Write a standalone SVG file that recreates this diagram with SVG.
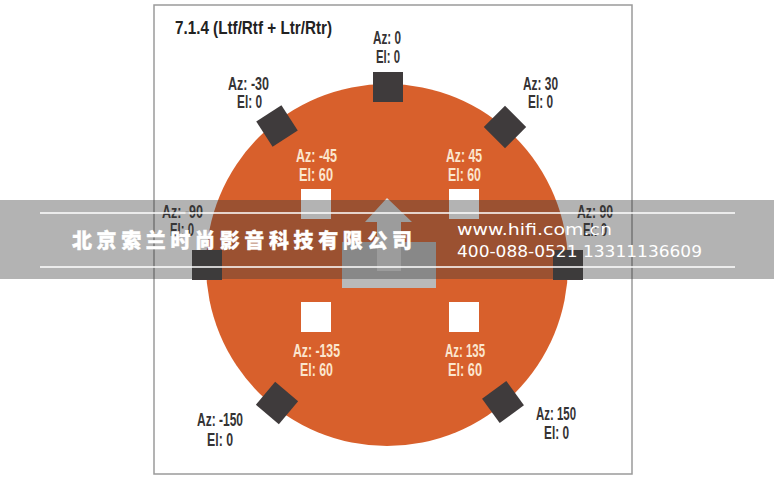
<svg xmlns="http://www.w3.org/2000/svg" width="774" height="480" viewBox="0 0 774 480">
<style>
.lbl{font-family:"Liberation Sans",Arial,sans-serif;font-weight:bold;font-size:18.5px}
.dk{fill:#353334}
.lt{fill:#fbe6cf}
.spk{fill:#3f3b3c}
.top{fill:#ffffff}
.wm{font-family:"DejaVu Sans",sans-serif;font-size:16px;fill:#ffffff}
</style>
<rect x="0" y="0" width="774" height="480" fill="#ffffff"/>
<rect id="frame" x="154" y="5" width="478" height="469" fill="#ffffff" stroke="#9a9a9a" stroke-width="1.5"/>
<text class="lbl" x="175" y="34" fill="#222" textLength="157" lengthAdjust="spacingAndGlyphs">7.1.4 (Ltf/Rtf + Ltr/Rtr)</text>
<circle id="room" cx="387" cy="265" r="181" fill="#d8602c"/>
<g id="listener">
<rect x="342" y="242" width="94" height="46" fill="#b9b9b9"/>
<path d="M387 198 L412 222 L401 222 L401 271 L377 271 L377 222 L365 222 Z" fill="#dadada"/>
</g>
<g id="connectors"></g>
<g id="spk-0"><rect class="spk" x="373" y="72" width="30" height="30"/>
<text class="lbl dk" x="373" y="44" textLength="28" lengthAdjust="spacingAndGlyphs">Az: 0</text>
<text class="lbl dk" x="376" y="63" textLength="24" lengthAdjust="spacingAndGlyphs">El: 0</text></g>
<g id="spk-m30"><rect class="spk" x="-15" y="-15" width="30" height="30" transform="translate(277 126) rotate(-33)"/>
<text class="lbl dk" x="228" y="90" textLength="41" lengthAdjust="spacingAndGlyphs">Az: -30</text>
<text class="lbl dk" x="237" y="108" textLength="25" lengthAdjust="spacingAndGlyphs">El: 0</text></g>
<g id="spk-30"><rect class="spk" x="-15" y="-15" width="30" height="30" transform="translate(505 127) rotate(45)"/>
<text class="lbl dk" x="523" y="90" textLength="35" lengthAdjust="spacingAndGlyphs">Az: 30</text>
<text class="lbl dk" x="528" y="108" textLength="25" lengthAdjust="spacingAndGlyphs">El: 0</text></g>
<g id="spk-m90"><rect class="spk" x="192" y="250" width="30" height="30"/>
<text class="lbl dk" x="162" y="218" textLength="41" lengthAdjust="spacingAndGlyphs">Az: -90</text>
<text class="lbl dk" x="170" y="236" textLength="24" lengthAdjust="spacingAndGlyphs">El: 0</text></g>
<g id="spk-90"><rect class="spk" x="553" y="250" width="30" height="30"/>
<text class="lbl dk" x="577" y="218" textLength="36" lengthAdjust="spacingAndGlyphs">Az: 90</text>
<text class="lbl dk" x="583" y="236" textLength="24" lengthAdjust="spacingAndGlyphs">El: 0</text></g>
<g id="spk-m150"><rect class="spk" x="-15" y="-15" width="30" height="30" transform="translate(277 403) rotate(40)"/>
<text class="lbl dk" x="197" y="426" textLength="46" lengthAdjust="spacingAndGlyphs">Az: -150</text>
<text class="lbl dk" x="207" y="446" textLength="26" lengthAdjust="spacingAndGlyphs">El: 0</text></g>
<g id="spk-150"><rect class="spk" x="-15" y="-15" width="30" height="30" transform="translate(503 402) rotate(-36)"/>
<text class="lbl dk" x="536" y="420" textLength="40" lengthAdjust="spacingAndGlyphs">Az: 150</text>
<text class="lbl dk" x="544" y="439" textLength="25" lengthAdjust="spacingAndGlyphs">El: 0</text></g>
<g id="top-m45"><rect class="top" x="301" y="189" width="30" height="30"/>
<text class="lbl lt" x="296" y="162" textLength="41" lengthAdjust="spacingAndGlyphs">Az: -45</text>
<text class="lbl lt" x="299" y="181" textLength="34" lengthAdjust="spacingAndGlyphs">El: 60</text></g>
<g id="top-45"><rect class="top" x="449" y="189" width="30" height="30"/>
<text class="lbl lt" x="446" y="162" textLength="36" lengthAdjust="spacingAndGlyphs">Az: 45</text>
<text class="lbl lt" x="448" y="181" textLength="33" lengthAdjust="spacingAndGlyphs">El: 60</text></g>
<g id="top-m135"><rect class="top" x="301" y="302" width="30" height="30"/>
<text class="lbl lt" x="293" y="357" textLength="47" lengthAdjust="spacingAndGlyphs">Az: -135</text>
<text class="lbl lt" x="300" y="376" textLength="33" lengthAdjust="spacingAndGlyphs">El: 60</text></g>
<g id="top-135"><rect class="top" x="449" y="302" width="30" height="30"/>
<text class="lbl lt" x="445" y="357" textLength="40" lengthAdjust="spacingAndGlyphs">Az: 135</text>
<text class="lbl lt" x="448" y="376" textLength="34" lengthAdjust="spacingAndGlyphs">El: 60</text></g>
<g id="watermark">
<rect x="0" y="200" width="774" height="79" fill="#3c3c3c" fill-opacity="0.39"/>
<line x1="40" y1="213" x2="735" y2="213" stroke="#ffffff" stroke-width="1.3"/>
<line x1="40" y1="267" x2="735" y2="267" stroke="#ffffff" stroke-width="1.3"/>
<text x="72" y="248" font-family="'Noto Sans CJK SC',sans-serif" font-weight="900" font-size="20" fill="#ffffff" stroke="#ffffff" stroke-width="0.4" textLength="340" lengthAdjust="spacing">北京索兰时尚影音科技有限公司</text>
<text class="wm" x="457" y="235" textLength="155" lengthAdjust="spacingAndGlyphs">www.hifi.com.cn</text>
<text class="wm" x="457" y="257" textLength="245" lengthAdjust="spacingAndGlyphs">400-088-0521  13311136609</text>
</g>
</svg>
